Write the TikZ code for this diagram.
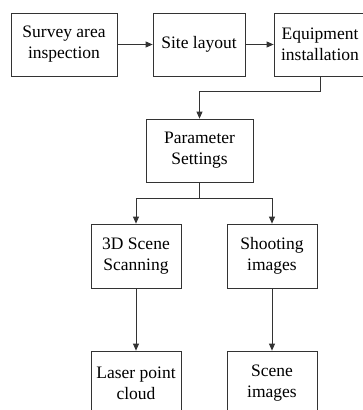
\documentclass[tikz,border=0pt]{standalone}
\usepackage{fontspec}
\setmainfont{Liberation Serif}
\usetikzlibrary{arrows.meta}
\begin{document}
\begin{tikzpicture}[x=1pt,y=-1pt,
  box/.style={draw=black!80,line width=0.8pt,rectangle,align=center,inner sep=0pt,
    font=\fontsize{17.5}{21}\selectfont,minimum height=63pt},
  arr/.style={draw=black!80,line width=0.8pt,-{Triangle[length=7pt,width=6pt]}},
  ln/.style={draw=black!80,line width=0.8pt}]
\useasboundingbox (0,0) rectangle (363,410);
\clip (0,0) rectangle (363,410);
\node[box,minimum width=106pt] (b1) at (64,44.5) {Survey area\\inspection};
\node[box,minimum width=92pt] (b2) at (199,44.5) {Site layout};
\node[box,minimum width=92pt] (b3) at (320,44.5) {Equipment\\installation};
\node[box,minimum width=107pt] (b4) at (199.5,150.5) {Parameter\\Settings};
\node[box,minimum width=90pt,minimum height=64pt] (b5) at (136,256) {3D Scene\\Scanning};
\node[box,minimum width=90pt,minimum height=64pt] (b6) at (272,256) {Shooting\\images};
\node[box,minimum width=90pt,minimum height=64pt] (b7) at (136,383) {Laser point\\cloud};
\node[box,minimum width=90pt,minimum height=64pt] (b8) at (272,383) {Scene\\images};
\draw[arr] (b1) -- (b2);
\draw[arr] (b2) -- (b3);
\draw[arr] (b3.south) -- ++(0,15) -| (b4.north);
\draw[ln] (b4.south) -- ++(0,16) coordinate (m);
\draw[arr] (m) -| (b5.north);
\draw[arr] (m) -| (b6.north);
\draw[arr] (b5) -- (b7);
\draw[arr] (b6) -- (b8);
\end{tikzpicture}
\end{document}
